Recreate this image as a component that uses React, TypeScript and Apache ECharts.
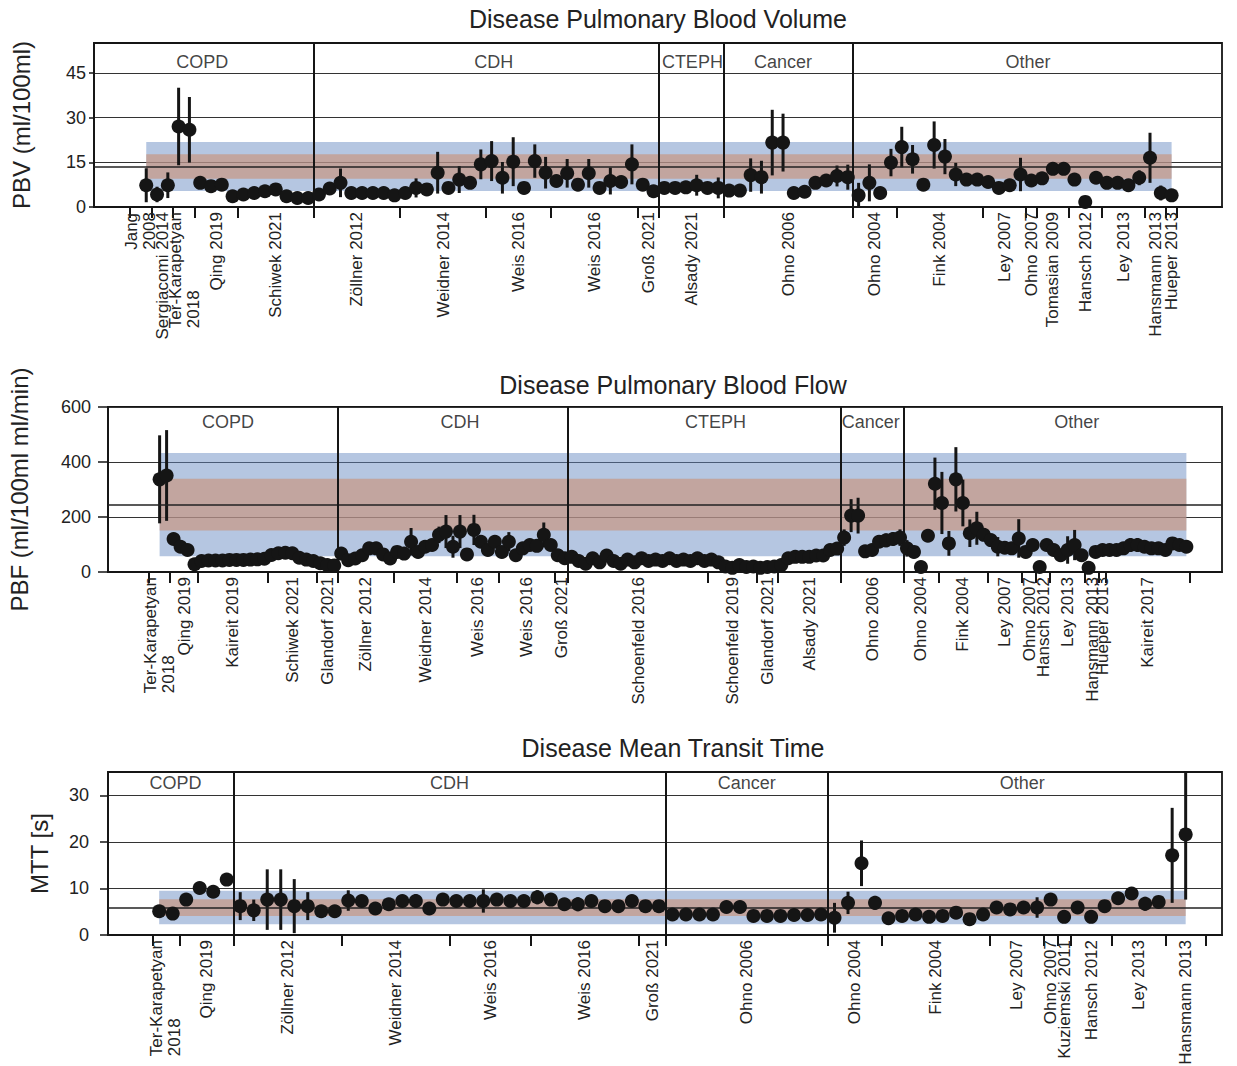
import React, { useEffect, useRef } from 'react';
import * as echarts from 'echarts';

// ---------------- DATA ----------------
const pbvValues = [
  7.3, 4.2, 7.3, 27.0, 25.9, 8.1, 7.0, 7.5, 3.6, 4.2, 4.7, 5.3, 5.9, 3.6, 3.0, 3.0,
  4.2, 6.2, 8.1, 4.7, 4.7, 4.7, 4.7, 3.9, 4.7, 6.4, 5.9, 11.5, 6.4, 9.2, 8.1, 14.3,
  15.4, 9.8, 15.2, 6.4, 15.4, 11.5, 8.7, 11.3, 7.5, 11.3, 6.4, 8.7, 8.4, 14.3, 7.5, 5.3,
  6.4, 6.4, 6.6, 7.3, 6.4, 6.4,
  5.5, 5.5, 10.7, 10.0, 21.6, 21.6, 4.7, 5.1, 8.1, 8.9, 10.4, 10.0,
  3.9, 8.1, 4.7, 14.9, 20.1, 16.0, 7.5, 20.8, 16.9, 10.9, 9.2, 9.2, 8.4, 6.4, 7.3,
  10.9, 8.9, 9.6, 12.8, 12.8, 9.2, 1.7, 9.8, 8.1, 8.1, 7.3, 9.8, 16.5, 4.7, 3.9,
];
const pbvErr = [
  5.7, 2.6, 4.3, 13.0, 11.0, 1, 1, 1, 1, 1, 1, 1, 1.5, 1, 1, 1,
  1, 1.5, 4.8, 1, 1, 1, 1, 1, 1, 3.2, 1, 7.0, 1, 4.5, 1.5, 5.0,
  6.7, 5.3, 8.2, 1, 5.6, 5.3, 1, 4.8, 1, 4.8, 1, 4.5, 1.5, 6.7, 1, 1,
  2, 1.5, 2, 3.5, 2, 3.5,
  1, 1, 5.6, 5.5, 11.0, 9.7, 1, 1, 1.5, 1.5, 3.5, 4.2,
  4.2, 6.2, 1, 4.6, 6.8, 4.8, 1.5, 7.9, 5.9, 3.9, 1.5, 1.5, 2, 1.5, 1.5,
  5.6, 1, 1, 1, 1, 1, 1, 1, 1.5, 1.5, 1, 2.5, 8.4, 2.5, 1,
];

const pbfValues = [
  337, 351, 120, 92, 80, 28, 40, 42, 42, 42, 44, 44, 44, 45, 46, 48, 62, 68, 70, 68, 52, 45, 40, 32, 25, 24,
  67, 43, 49, 61, 86, 86, 64, 49, 73, 67, 110, 73, 92, 98, 135, 147, 92, 147, 64, 153, 110, 80, 110, 73,
  110, 61, 86, 98, 95, 135, 98, 61, 50,
  55, 40, 30, 50, 35, 60, 40, 30, 45, 35, 50, 40, 45, 40, 50, 40, 45, 40, 50, 40, 45, 35,
  20, 15, 25, 18, 20, 15, 18, 20, 25, 50, 55, 55, 55, 60, 60, 80, 85,
  125, 205, 205, 75, 80, 110, 115, 120, 125,
  86, 73, 18, 132, 321, 251, 104, 337, 251, 141, 159, 135, 116, 92, 88, 86, 122, 73, 98, 18,
  98, 80, 61, 80, 98, 61, 15, 73, 80, 80, 80, 86, 98, 98, 92, 86, 86, 80, 104, 98, 92,
];
const pbfErr = [
  160, 165, 10, 8, 8, 5, 5, 5, 5, 5, 5, 5, 5, 5, 5, 5, 8, 8, 8, 8, 5, 5, 5, 5, 5, 5,
  8, 5, 5, 8, 10, 10, 8, 5, 20, 8, 50, 8, 10, 10, 30, 60, 40, 60, 8, 55, 20, 10, 20, 10,
  35, 8, 10, 15, 10, 45, 10, 8, 5,
  8, 5, 5, 8, 5, 8, 5, 5, 5, 5, 8, 5, 5, 5, 8, 5, 5, 5, 8, 5, 5, 5,
  5, 5, 5, 5, 5, 5, 5, 5, 5, 8, 8, 10, 10, 10, 10, 15, 15,
  30, 60, 65, 10, 10, 20, 25, 25, 30,
  30, 15, 5, 10, 95, 113, 45, 117, 85, 50, 60, 15, 15, 35, 15, 15, 70, 10, 10, 5,
  15, 10, 10, 50, 55, 10, 5, 10, 15, 15, 15, 15, 25, 25, 15, 15, 15, 20, 15, 10, 10,
];

const mttValues = [
  5.1, 4.6, 7.6, 10.1, 9.3, 11.9,
  6.2, 5.3, 7.6, 7.6, 6.2, 6.2, 5.1, 5.1, 7.4, 7.3, 5.7, 6.6, 7.3, 7.3, 5.7, 7.6,
  7.3, 7.3, 7.3, 7.6, 7.3, 7.3, 8.1, 7.6, 6.6, 6.6, 7.3, 6.2, 6.2, 7.3, 6.2, 6.2,
  4.4, 4.4, 4.4, 4.4, 6.0, 6.0, 4.1, 4.1, 4.1, 4.3, 4.3, 4.4,
  3.7, 6.9, 15.4, 6.9, 3.6, 4.1, 4.4, 3.9, 4.1, 4.8, 3.4, 4.4, 5.9, 5.5, 5.9, 5.9,
  7.6, 3.9, 5.9, 3.9, 6.2, 7.9, 8.9, 6.7, 7.1, 17.1, 21.6,
];
const mttErr = [
  0.5, 0.5, 0.5, 0.5, 0.5, 0.5,
  3, 2.3, 6.5, 6.5, 5.8, 3, 1, 1, 2.2, 1, 1, 1, 1, 1.5, 1, 1,
  1, 1, 2.5, 1, 1, 1, 1.5, 1, 1, 1.5, 1, 1, 1, 1, 1, 1,
  0.5, 0.5, 0.5, 0.5, 0.5, 0.5, 0.5, 0.5, 0.5, 0.5, 0.5, 0.5,
  3.2, 2.4, 4.9, 1.5, 0.5, 0.5, 0.5, 0.5, 0.5, 0.5, 0.5, 0.5, 0.5, 0.5, 1, 2.2,
  0.5, 0.5, 0.5, 0.5, 0.5, 0.5, 0.5, 1.5, 0.5, 10.2, 14,
];

const pbvStudyLabels = ['Jang\n2008', 'Sergiacomi 2014', 'Ter-Karapetyan\n2018', 'Qing 2019', 'Schiwek 2021',
  'Zöllner 2012', 'Weidner 2014', 'Weis 2016', 'Weis 2016', 'Groß 2021', 'Alsady 2021', 'Ohno 2006',
  'Ohno 2004', 'Fink 2004', 'Ley 2007', 'Ohno 2007', 'Tomasian 2009', 'Hansch 2012', 'Ley 2013',
  'Hansmann 2013', 'Hueper 2013'];
const pbvStudyBounds = [-1.5, 0.5, 2.5, 4.5, 8.5, 15.5, 23.5, 31.5, 37.5, 45.5, 47.5, 53.5, 65.5, 69.5,
  77.5, 81.5, 82.5, 85.5, 88.5, 92.5, 94.5, 95.5];

const pbfStudyLabels = ['Ter-Karapetyan\n2018', 'Qing 2019', 'Kaireit 2019', 'Schiwek 2021', 'Glandorf 2021',
  'Zöllner 2012', 'Weidner 2014', 'Weis 2016', 'Weis 2016', 'Groß 2021', 'Schoenfeld 2016',
  'Schoenfeld 2019', 'Glandorf 2021', 'Alsady 2021', 'Ohno 2006', 'Ohno 2004', 'Fink 2004', 'Ley 2007',
  'Ohno 2007', 'Hansch 2012', 'Ley 2013', 'Hansmann 2013', 'Hueper 2013', 'Kaireit 2017'];
const pbfStudyBounds = [-1.5, 1.5, 5.5, 15.5, 22.5, 25.5, 33.5, 42.5, 48.5, 56.5, 58.5, 78.5, 85.5, 88.5,
  97.5, 106.5, 111.5, 118.5, 123.5, 125.5, 127.5, 132.5, 134.5, 135.5, 147.5];

const mttStudyLabels = ['Ter-Karapetyan\n2018', 'Qing 2019', 'Zöllner 2012', 'Weidner 2014', 'Weis 2016',
  'Weis 2016', 'Groß 2021', 'Ohno 2006', 'Ohno 2004', 'Fink 2004', 'Ley 2007', 'Ohno 2007',
  'Kuziemski 2011', 'Hansch 2012', 'Ley 2013', 'Hansmann 2013'];
const mttStudyBounds = [-0.5, 1.5, 5.5, 13.5, 21.5, 27.5, 35.5, 37.5, 49.5, 53.5, 61.5, 65.5, 66.5, 67.5,
  70.5, 74.5, 77.5];

const pbvGroups = ['COPD', 'CDH', 'CTEPH', 'Cancer', 'Other'];
const pbvGroupBounds = [15.5, 47.5, 53.5, 65.5];
const pbfGroups = ['COPD', 'CDH', 'CTEPH', 'Cancer', 'Other'];
const pbfGroupBounds = [25.5, 58.5, 97.5, 106.5];
const mttGroups = ['COPD', 'CDH', 'Cancer', 'Other'];
const mttGroupBounds = [5.5, 37.5, 49.5];

// reference range: [mean, sd]
const pbvReference = [13.6, 4.1];
const pbfReference = [245, 94];
const mttReference = [5.9, 1.8];

// y tick values
const pbvTicks = [0, 15, 30, 45];
const pbfTicks = [0, 200, 400, 600];
const mttTicks = [0, 10, 20, 30];

// ---------------- LAYOUT / STYLE ----------------
const FONT = 'Liberation Sans, Arial, sans-serif';
const INK = '#151515';
const BLUE = 'rgba(100,135,192,0.48)';
const RED = 'rgba(201,146,118,0.62)';

const panels = [
  {
    title: 'Disease Pulmonary Blood Volume', yName: 'PBV (ml/100ml)',
    values: pbvValues, err: pbvErr, labels: pbvStudyLabels, bounds: pbvStudyBounds,
    groups: pbvGroups, groupBounds: pbvGroupBounds, ref: pbvReference, yTicks: pbvTicks,
    left: 94, top: 43, height: 164, xMin: -4.84, xMax: 99.67, yMax: 55, interval: 15,
    headerY: 48.5, headerX: [5.2, 32.2, 50.6, 59.0, 81.7],
    nameGap: 61, yLabelMargin: 8, yTickLen: 5, titleX: 658, titleY: 19,
  },
  {
    title: 'Disease Pulmonary Blood Flow', yName: 'PBF (ml/100ml ml/min)',
    values: pbfValues, err: pbfErr, labels: pbfStudyLabels, bounds: pbfStudyBounds,
    groups: pbfGroups, groupBounds: pbfGroupBounds, ref: pbfReference, yTicks: pbfTicks,
    left: 108, top: 407, height: 165, xMin: -7.39, xMax: 152.1, yMax: 600, interval: 200,
    headerY: 545, headerX: [9.8, 43.0, 79.6, 101.8, 131.3],
    nameGap: 77, yLabelMargin: 17, yTickLen: 10, titleX: 673, titleY: 385,
  },
  {
    title: 'Disease Mean Transit Time', yName: 'MTT [s]',
    values: mttValues, err: mttErr, labels: mttStudyLabels, bounds: mttStudyBounds,
    groups: mttGroups, groupBounds: mttGroupBounds, ref: mttReference, yTicks: mttTicks,
    left: 108, top: 772, height: 163, xMin: -3.79, xMax: 78.69, yMax: 35, interval: 10,
    headerY: 32.6, headerX: [1.2, 21.5, 43.5, 63.9],
    nameGap: 57, yLabelMargin: 19, yTickLen: 8, titleX: 673, titleY: 748,
  },
];

const key = (v: number) => v.toFixed(3);

function buildOption() {
  const grid: any[] = [];
  const xAxis: any[] = [];
  const yAxis: any[] = [];
  const series: any[] = [];
  const graphic: any[] = [];

  panels.forEach((p, i) => {
    grid.push({
      left: p.left, right: 15, top: p.top, height: p.height,
      show: true, borderColor: INK, borderWidth: 1.8, backgroundColor: 'transparent',
      outerBoundsMode: 'none', containLabel: false,
    });

    const centers = p.labels.map((_, k) => (p.bounds[k] + p.bounds[k + 1]) / 2);
    const labelMap = new Map<string, string>();
    centers.forEach((c, k) => labelMap.set(key(c), p.labels[k]));

    xAxis.push({
      type: 'value', gridIndex: i, min: p.xMin, max: p.xMax,
      axisLine: { show: true, onZero: false, lineStyle: { color: INK, width: 1.8 } },
      axisTick: { show: true, customValues: p.bounds, length: 11, lineStyle: { color: INK, width: 2 } },
      axisLabel: {
        show: true,
        // blank end-stops so that the real first/last study labels are never dropped
        customValues: [p.xMin, ...centers, p.xMax],
        rotate: 90, margin: 5,
        showMinLabel: true, showMaxLabel: true, hideOverlap: false,
        fontSize: 17, lineHeight: 18, color: '#222', fontFamily: FONT,
        formatter: (v: number) => {
          const t = labelMap.get(key(v));
          if (t === undefined) return ' ';
          return t.indexOf('\n') >= 0 ? t.split('\n').map((s) => `{l|${s}}`).join('\n') : t;
        },
        rich: { l: { align: 'left', fontSize: 17, lineHeight: 18, color: '#222', fontFamily: FONT } },
      },
      splitLine: { show: false },
    });

    yAxis.push({
      type: 'value', gridIndex: i, min: 0, max: p.yMax, interval: p.interval,
      name: p.yName, nameLocation: 'middle', nameGap: p.nameGap,
      nameTextStyle: { fontSize: 24, color: '#222', fontFamily: FONT },
      axisLine: { show: true, onZero: false, lineStyle: { color: INK, width: 1.8 } },
      axisTick: { show: true, customValues: p.yTicks, length: p.yTickLen, lineStyle: { color: INK, width: 1.5 } },
      axisLabel: {
        customValues: p.yTicks, showMinLabel: true, showMaxLabel: true,
        fontSize: 18, color: '#222', fontFamily: FONT, margin: p.yLabelMargin,
      },
      splitLine: { show: true, lineStyle: { color: '#333', width: 1 } },
    });

    const n = p.values.length;
    const [mean, sd] = p.ref;

    // reference bands (±2 SD blue, ±1 SD red)
    series.push({
      type: 'custom', xAxisIndex: i, yAxisIndex: i, z: 2, silent: true,
      data: [[0, n - 1, mean - 2 * sd, mean + 2 * sd, 0], [0, n - 1, mean - sd, mean + sd, 1]],
      renderItem: (_params: any, api: any) => {
        const a = api.coord([api.value(0), api.value(3)]);
        const b = api.coord([api.value(1), api.value(2)]);
        return {
          type: 'rect',
          shape: { x: a[0], y: a[1], width: b[0] - a[0], height: b[1] - a[1] },
          style: { fill: api.value(4) === 0 ? BLUE : RED },
        };
      },
    });

    // error bars
    series.push({
      type: 'custom', xAxisIndex: i, yAxisIndex: i, z: 4, silent: true, clip: true,
      data: p.values.map((v, k) => [k, v - p.err[k], v + p.err[k]]),
      renderItem: (_params: any, api: any) => {
        const a = api.coord([api.value(0), api.value(1)]);
        const b = api.coord([api.value(0), api.value(2)]);
        return {
          type: 'line',
          shape: { x1: a[0], y1: a[1], x2: b[0], y2: b[1] },
          style: { stroke: INK, lineWidth: 3 },
        };
      },
    });

    // points + mean line + group dividers
    series.push({
      type: 'scatter', xAxisIndex: i, yAxisIndex: i, z: 5, silent: true,
      symbol: 'circle', symbolSize: 14,
      itemStyle: { color: INK, opacity: 1 },
      data: p.values.map((v, k) => [k, v]),
      markLine: {
        silent: true, symbol: 'none', animation: false,
        label: { show: false },
        data: [
          { yAxis: mean, lineStyle: { color: '#222', width: 1.7, type: 'solid' } },
          ...p.groupBounds.map((b) => ({ xAxis: b, lineStyle: { color: INK, width: 2, type: 'solid' } })),
        ],
      },
    });

    // group header labels
    series.push({
      type: 'scatter', xAxisIndex: i, yAxisIndex: i, z: 6, silent: true,
      symbol: 'circle', symbolSize: 1, itemStyle: { color: 'rgba(0,0,0,0)' },
      data: p.groups.map((g, k) => ({ name: g, value: [p.headerX[k], p.headerY] })),
      label: {
        show: true, position: 'inside', formatter: '{b}',
        fontSize: 18, color: '#111', fontFamily: FONT,
      },
    });

    graphic.push({
      type: 'text', x: p.titleX, y: p.titleY,
      style: {
        text: p.title, fill: '#222', fontSize: 25, fontFamily: FONT,
        align: 'center', verticalAlign: 'middle',
      },
    });
  });

  return {
    animation: false,
    backgroundColor: '#ffffff',
    textStyle: { fontFamily: FONT },
    grid, xAxis, yAxis, series, graphic,
  };
}

export default function App() {
  const ref = useRef<HTMLDivElement>(null);
  useEffect(() => {
    if (!ref.current) return;
    const chart = echarts.init(ref.current, undefined, { renderer: 'svg' });
    chart.setOption(buildOption() as any);
    return () => chart.dispose();
  }, []);
  return (
    <div
      ref={ref}
      style={{ position: 'fixed', left: 0, top: 0, width: 1237, height: 1066, background: '#fff' }}
    />
  );
}
